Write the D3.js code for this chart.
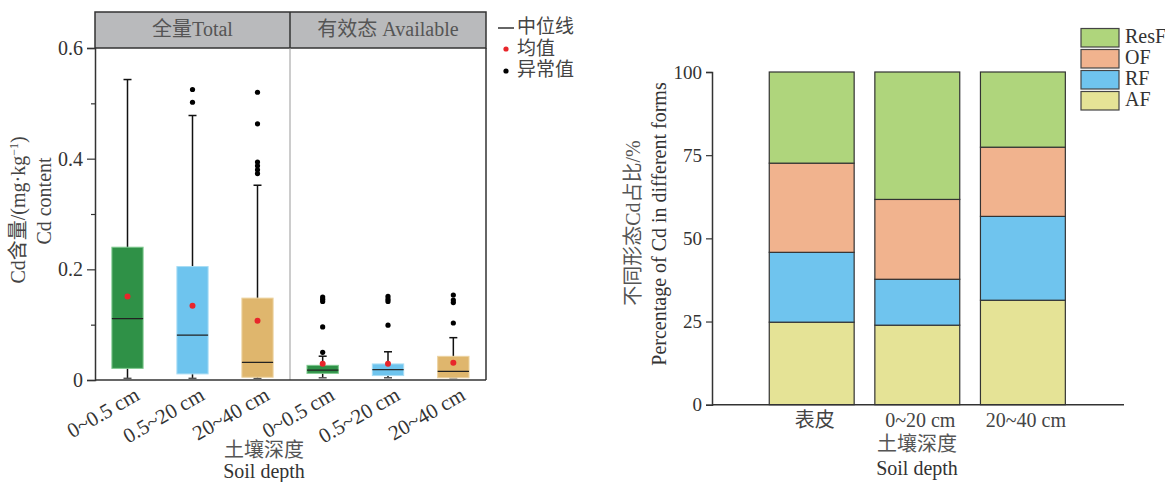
<!DOCTYPE html>
<html lang="zh">
<head>
  <meta charset="UTF-8">
  <title>Cd content and forms by soil depth</title>
  <script src="https://cdnjs.cloudflare.com/ajax/libs/d3/7.8.5/d3.min.js"></script>
  <style>
    body { margin: 0; background: #fff; }
    svg text { font-family: "Liberation Serif", "Noto Sans CJK SC", serif; }
  </style>
</head>
<body>
  <div id="chart"></div>
  <script>
    // ---- data ----
    const depthLabels = ["0~0.5 cm", "0.5~20 cm", "20~40 cm"];
    const boxColors = ["#2f9147", "#6ec4ee", "#dfb66d"];
    const boxStrokes = ["#7fc98f", "#a7dcf4", "#ecd3a0"];

    // total Cd boxes
    const totalBox = [
      {low: 0.003, q1: 0.021, med: 0.111, q3: 0.240, high: 0.543, mean: 0.151, out: []},
      {low: 0.003, q1: 0.011, med: 0.081, q3: 0.205, high: 0.478, mean: 0.134, out: [0.525, 0.502]},
      {low: 0.003, q1: 0.005, med: 0.032, q3: 0.148, high: 0.352, mean: 0.107, out: [0.520, 0.463, 0.394, 0.387, 0.380, 0.373]}
    ];
    // available Cd boxes
    const availBox = [
      {low: 0.004, q1: 0.012, med: 0.018, q3: 0.0265, high: 0.043, mean: 0.0295, out: [0.050, 0.096, 0.150, 0.146, 0.142]},
      {low: 0.004, q1: 0.008, med: 0.0187, q3: 0.029, high: 0.051, mean: 0.0295, out: [0.099, 0.151, 0.146, 0.142]},
      {low: 0.004, q1: 0.004, med: 0.0157, q3: 0.0428, high: 0.0765, mean: 0.031, out: [0.103, 0.1536, 0.1446, 0.140]}
    ];

    // Cd forms (%) for the stacked bars
    const formDepths = ["表皮", "0~20 cm", "20~40 cm"];
    const formKeys = ["AF", "RF", "OF", "ResF"];
    const formColors = ["#e5e396", "#6fc4ee", "#f1b38e", "#afd57c"];
    const AF   = [24.8, 23.9, 31.4];
    const RF   = [21.0, 13.8, 25.2];
    const OF   = [26.8, 24.0, 20.8];
    const ResF = [27.4, 38.3, 22.6];

    const svg = d3.select("#chart").append("svg")
      .attr("width", 1165)
      .attr("height", 482);

    // ================= left: box plots =================
    const y = d3.scaleLinear().domain([0, 0.6]).range([380, 48]);
    const panels = [
      {title: "全量Total", data: totalBox, range: [95, 290]},
      {title: "有效态 Available", data: availBox, range: [290, 486]}
    ];

    const left = svg.append("g");

    // header strip
    left.append("rect")
      .attr("x", 95).attr("y", 12)
      .attr("width", 391).attr("height", 36)
      .attr("fill", "#b9babc")
      .attr("stroke", "#333").attr("stroke-width", 1.5);
    left.append("line")
      .attr("x1", 290).attr("x2", 290).attr("y1", 12).attr("y2", 48)
      .attr("stroke", "#333").attr("stroke-width", 1.5);
    // panel divider + right edge
    left.append("line")
      .attr("x1", 290).attr("x2", 290).attr("y1", 48).attr("y2", 380)
      .attr("stroke", "#999").attr("stroke-width", 1);
    left.append("line")
      .attr("x1", 486).attr("x2", 486).attr("y1", 48).attr("y2", 380)
      .attr("stroke", "#333").attr("stroke-width", 1.5);
    left.append("line")
      .attr("x1", 95).attr("x2", 486).attr("y1", 380).attr("y2", 380)
      .attr("stroke", "#333").attr("stroke-width", 1.5);

    panels.forEach(p => {
      const x = d3.scaleBand().domain(depthLabels).range(p.range);
      const bw = x.bandwidth() * 0.48;
      const cx = d => x(d) + x.bandwidth() / 2;

      left.append("text")
        .attr("x", (p.range[0] + p.range[1]) / 2)
        .attr("y", 31)
        .attr("text-anchor", "middle")
        .attr("dominant-baseline", "middle")
        .attr("fill", "#555")
        .style("font-size", "20px")
        .text(p.title);

      const box = left.selectAll(null)
        .data(p.data)
        .enter().append("g");

      // whiskers
      box.append("line")
        .attr("x1", (d, i) => cx(depthLabels[i])).attr("x2", (d, i) => cx(depthLabels[i]))
        .attr("y1", d => y(d.high)).attr("y2", d => y(d.low))
        .attr("stroke", "#111").attr("stroke-width", 1.5);
      box.append("line")
        .attr("x1", (d, i) => cx(depthLabels[i]) - 4).attr("x2", (d, i) => cx(depthLabels[i]) + 4)
        .attr("y1", d => y(d.high)).attr("y2", d => y(d.high))
        .attr("stroke", "#111").attr("stroke-width", 1.5);
      box.append("line")
        .attr("x1", (d, i) => cx(depthLabels[i]) - 4).attr("x2", (d, i) => cx(depthLabels[i]) + 4)
        .attr("y1", d => y(d.low)).attr("y2", d => y(d.low))
        .attr("stroke", "#555").attr("stroke-width", 1.5);

      // boxes
      box.append("rect")
        .attr("x", (d, i) => cx(depthLabels[i]) - bw / 2)
        .attr("y", d => y(d.q3))
        .attr("width", bw)
        .attr("height", d => y(d.q1) - y(d.q3))
        .attr("fill", (d, i) => boxColors[i])
        .attr("stroke", (d, i) => boxStrokes[i]);

      // median
      box.append("line")
        .attr("x1", (d, i) => cx(depthLabels[i]) - bw / 2).attr("x2", (d, i) => cx(depthLabels[i]) + bw / 2)
        .attr("y1", d => y(d.med)).attr("y2", d => y(d.med))
        .attr("stroke", "#222").attr("stroke-width", 1.2);

      // outliers
      box.each(function(d, i) {
        d3.select(this).selectAll("circle.out")
          .data(d.out)
          .enter().append("circle")
          .attr("class", "out")
          .attr("cx", cx(depthLabels[i]))
          .attr("cy", v => y(v))
          .attr("r", 2.6)
          .attr("fill", "#000");
      });

      // mean
      box.append("circle")
        .attr("cx", (d, i) => cx(depthLabels[i]))
        .attr("cy", d => y(d.mean))
        .attr("r", 3)
        .attr("fill", "#e8262b");

      // rotated x labels
      left.selectAll(null)
        .data(depthLabels)
        .enter().append("text")
        .attr("transform", d => `translate(${cx(d) + 7},${388}) rotate(-30)`)
        .attr("text-anchor", "end")
        .attr("dy", "0.6em")
        .attr("fill", "#333")
        .style("font-size", "21px")
        .text(d => d);
    });

    // y axis (major + minor ticks)
    const yAxis = left.append("g")
      .attr("transform", "translate(95,0)")
      .call(d3.axisLeft(y).tickValues([0, 0.2, 0.4, 0.6]).tickSize(8).tickPadding(4)
        .tickFormat(d => d === 0 ? "0" : d3.format(".1f")(d)));
    yAxis.select(".domain").attr("stroke", "#333").attr("stroke-width", 1.5);
    yAxis.selectAll("text").style("font-size", "20px").attr("fill", "#333");
    yAxis.selectAll(".tick line").attr("stroke", "#333").attr("stroke-width", 1.2);
    const yMinor = left.append("g")
      .attr("transform", "translate(95,0)")
      .call(d3.axisLeft(y).tickValues([0.1, 0.3, 0.5]).tickSize(4).tickFormat(""));
    yMinor.select(".domain").remove();
    yMinor.selectAll(".tick line").attr("stroke", "#333").attr("stroke-width", 1.2);

    // y titles
    left.append("text")
      .attr("transform", "translate(25,210) rotate(-90)")
      .attr("text-anchor", "middle")
      .attr("fill", "#444")
      .style("font-size", "20px")
      .html("Cd含量/(mg·kg<tspan baseline-shift='super' font-size='12px'>−1</tspan>)");
    left.append("text")
      .attr("transform", "translate(51,201) rotate(-90)")
      .attr("text-anchor", "middle")
      .attr("fill", "#444")
      .style("font-size", "20px")
      .text("Cd content");

    // x titles
    left.append("text")
      .attr("x", 264).attr("y", 457)
      .attr("text-anchor", "middle").attr("fill", "#555")
      .style("font-size", "20px")
      .text("土壤深度");
    left.append("text")
      .attr("x", 264).attr("y", 478)
      .attr("text-anchor", "middle").attr("fill", "#333")
      .style("font-size", "20px")
      .text("Soil depth");

    // legend
    const lg = left.append("g");
    lg.append("line").attr("x1", 498).attr("x2", 514).attr("y1", 28).attr("y2", 28)
      .attr("stroke", "#333").attr("stroke-width", 1.5);
    lg.append("circle").attr("cx", 506).attr("cy", 49).attr("r", 2.6).attr("fill", "#e8262b");
    lg.append("circle").attr("cx", 506).attr("cy", 71).attr("r", 2.6).attr("fill", "#000");
    ["中位线", "均值", "异常值"].forEach((t, i) => {
      lg.append("text")
        .attr("x", 517).attr("y", 29 + i * 21.5)
        .attr("dominant-baseline", "middle")
        .attr("fill", "#444")
        .style("font-size", "19px")
        .text(t);
    });

    // ================= right: stacked bars =================
    const right = svg.append("g");
    const formTable = formDepths.map((d, i) => ({depth: d, AF: AF[i], RF: RF[i], OF: OF[i], ResF: ResF[i]}));
    const stack = d3.stack().keys(formKeys)(formTable);

    const xb = d3.scaleBand().domain(formDepths)
      .range([758.7, 1075.9]).paddingInner(0.196).paddingOuter(0.1);
    const yb = d3.scaleLinear().domain([0, 100]).range([404.7, 72]);
    const fColor = d3.scaleOrdinal().domain(formKeys).range(formColors);

    right.selectAll("g.layer")
      .data(stack)
      .enter().append("g")
      .attr("class", "layer")
      .attr("fill", d => fColor(d.key))
      .selectAll("rect")
      .data(d => d)
      .enter().append("rect")
      .attr("x", d => xb(d.data.depth))
      .attr("y", d => yb(d[1]))
      .attr("width", xb.bandwidth())
      .attr("height", d => yb(d[0]) - yb(d[1]))
      .attr("stroke", "#333")
      .attr("stroke-width", 1.2);

    const ybAxis = right.append("g")
      .attr("transform", "translate(712,0)")
      .call(d3.axisLeft(yb).tickValues([0, 25, 50, 75, 100]).tickSize(6).tickPadding(4));
    ybAxis.select(".domain").attr("stroke", "#333").attr("stroke-width", 1.5);
    ybAxis.selectAll("text").style("font-size", "19px").attr("fill", "#333");
    ybAxis.selectAll(".tick line").attr("stroke", "#333").attr("stroke-width", 1.2);

    right.append("line")
      .attr("x1", 712).attr("x2", 1124).attr("y1", 404.7).attr("y2", 404.7)
      .attr("stroke", "#333").attr("stroke-width", 1.5);

    right.selectAll("text.xl")
      .data(formDepths)
      .enter().append("text")
      .attr("class", "xl")
      .attr("x", d => xb(d) + xb.bandwidth() / 2 + 3)
      .attr("y", 427)
      .attr("text-anchor", "middle")
      .attr("fill", "#444")
      .style("font-size", "20px")
      .text(d => d);

    right.append("text")
      .attr("x", 917).attr("y", 451)
      .attr("text-anchor", "middle").attr("fill", "#555")
      .style("font-size", "20px")
      .text("土壤深度");
    right.append("text")
      .attr("x", 917).attr("y", 475)
      .attr("text-anchor", "middle").attr("fill", "#333")
      .style("font-size", "20px")
      .text("Soil depth");

    right.append("text")
      .attr("transform", "translate(640,223) rotate(-90)")
      .attr("text-anchor", "middle").attr("fill", "#555")
      .style("font-size", "20px")
      .text("不同形态Cd占比/%");
    right.append("text")
      .attr("transform", "translate(666,224) rotate(-90)")
      .attr("text-anchor", "middle").attr("fill", "#333")
      .style("font-size", "20px")
      .text("Percentage of Cd in different forms");

    // legend (top to bottom: ResF, OF, RF, AF)
    const legendKeys = formKeys.slice().reverse();
    const rl = right.selectAll("g.rl")
      .data(legendKeys)
      .enter().append("g")
      .attr("class", "rl")
      .attr("transform", (d, i) => `translate(1081,${28.5 + i * 21})`);
    rl.append("rect")
      .attr("width", 38).attr("height", 18.5)
      .attr("fill", d => fColor(d))
      .attr("stroke", "#444").attr("stroke-width", 1.2);
    rl.append("text")
      .attr("x", 44).attr("y", 10)
      .attr("dominant-baseline", "middle")
      .attr("fill", "#333")
      .style("font-size", "20px")
      .text(d => d);
  </script>
</body>
</html>
